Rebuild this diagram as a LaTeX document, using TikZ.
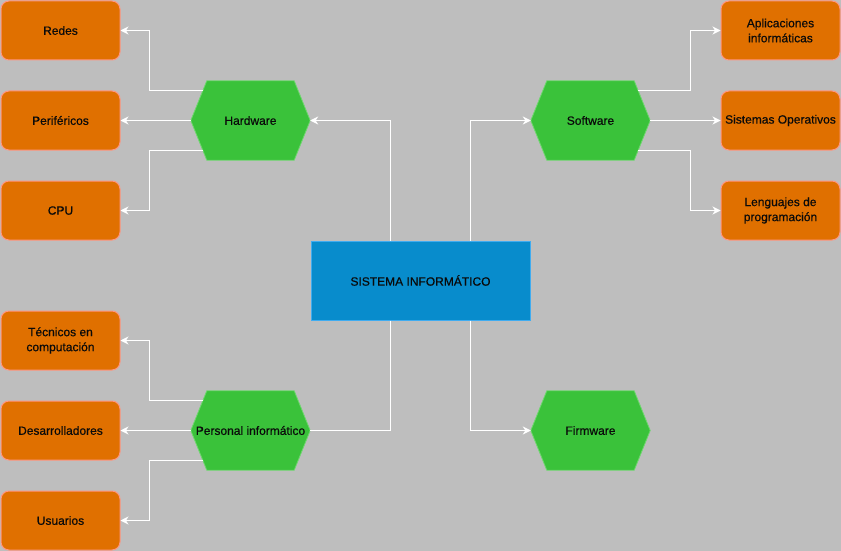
\documentclass[tikz,border=0pt]{standalone}
\usepackage{fontspec}
\setmainfont{Liberation Sans}
\newfontfamily\heavyfont{Liberation Sans}[FakeBold=0.5]
\usetikzlibrary{arrows.meta,backgrounds,calc}
\definecolor{bgc}{RGB}{190,190,190}
\definecolor{orfill}{RGB}{224,112,0}
\definecolor{ordraw}{RGB}{255,150,130}
\definecolor{grfill}{RGB}{58,194,58}
\definecolor{grdraw}{RGB}{110,215,110}
\definecolor{blfill}{RGB}{8,140,204}
\definecolor{bldraw}{RGB}{64,172,240}
\definecolor{txt}{RGB}{10,10,10}
\tikzset{
  leaf/.style={draw=ordraw, fill=orfill, rounded corners=8pt, line width=1pt,
    minimum width=119pt, minimum height=59pt, inner sep=0pt, align=center,
    text=txt, font=\heavyfont\fontsize{12}{15}\selectfont},
  hexnode/.style={minimum width=119pt, minimum height=79pt, inner sep=0pt,
    align=center, text=txt, font=\heavyfont\fontsize{12}{15}\selectfont},
  hexfill/.style={fill=grfill, draw=grdraw, line width=0.8pt},
  mainbox/.style={draw=bldraw, fill=blfill, line width=1pt,
    minimum width=219pt, minimum height=79pt, inner sep=0pt, align=center,
    text=txt, font=\heavyfont\fontsize{12}{15}\selectfont},
  conn/.style={draw=white, line width=1pt, -{Stealth[length=8pt,width=8pt,inset=2.5pt]}},
  plain/.style={draw=white, line width=1pt},
}
\newcommand\hexshape[1]{\path[hexfill] (#1.west) -- ([xshift=16pt]#1.north west) -- ([xshift=-16pt]#1.north east) -- (#1.east) -- ([xshift=-16pt]#1.south east) -- ([xshift=16pt]#1.south west) -- cycle;}
\begin{document}
\begin{tikzpicture}[x=1pt,y=-1pt]
\useasboundingbox (0,0) rectangle (841,551);
% nodes
\node[mainbox] (c) at (420.5,280.5) {SISTEMA INFORMÁTICO};
\node[hexnode] (hw) at (250.5,120.5) {Hardware};
\node[hexnode] (sw) at (590.5,120.5) {Software};
\node[hexnode] (pi) at (250.5,430.5) {Personal informático};
\node[hexnode] (fw) at (590.5,430.5) {Firmware};
\node[leaf] (redes) at (60.5,30.5) {Redes};
\node[leaf] (per) at (60.5,120.5) {Periféricos};
\node[leaf] (cpu) at (60.5,210.5) {CPU};
\node[leaf] (tec) at (60.5,340.5) {Técnicos en\\computación};
\node[leaf] (des) at (60.5,430.5) {Desarrolladores};
\node[leaf] (usu) at (60.5,520.5) {Usuarios};
\node[leaf] (apl) at (780.5,30.5) {Aplicaciones\\informáticas};
\node[leaf] (sop) at (780.5,120.5) {Sistemas Operativos};
\node[leaf] (len) at (780.5,210.5) {Lenguajes de\\programación};
\begin{scope}[on background layer]
\fill[bgc] (0,0) rectangle (841,551);
\hexshape{hw}
\hexshape{sw}
\hexshape{pi}
\hexshape{fw}
\end{scope}
% connectors from the central box
\draw[conn] ([xshift=-30.5pt]c.north) |- (hw.east);
\draw[conn] ([xshift=49.5pt]c.north) |- (sw.west);
\draw[plain] ([xshift=-30.5pt]c.south) |- (pi.east);
\draw[conn] ([xshift=49.5pt]c.south) |- (fw.west);
% hardware
\draw[conn] ([xshift=12pt,yshift=30pt]hw.west) -- ++(-53,0) |- (redes.east);
\draw[conn] (hw.west) -- (per.east);
\draw[conn] ([xshift=12pt,yshift=-30pt]hw.west) -- ++(-53,0) |- (cpu.east);
% software
\draw[conn] ([xshift=-12pt,yshift=30pt]sw.east) -- ++(52,0) |- (apl.west);
\draw[conn] (sw.east) -- (sop.west);
\draw[conn] ([xshift=-12pt,yshift=-30pt]sw.east) -- ++(52,0) |- (len.west);
% personal
\draw[conn] ([xshift=12pt,yshift=30pt]pi.west) -- ++(-53,0) |- (tec.east);
\draw[conn] (pi.west) -- (des.east);
\draw[conn] ([xshift=12pt,yshift=-30pt]pi.west) -- ++(-53,0) |- (usu.east);
\end{tikzpicture}
\end{document}
